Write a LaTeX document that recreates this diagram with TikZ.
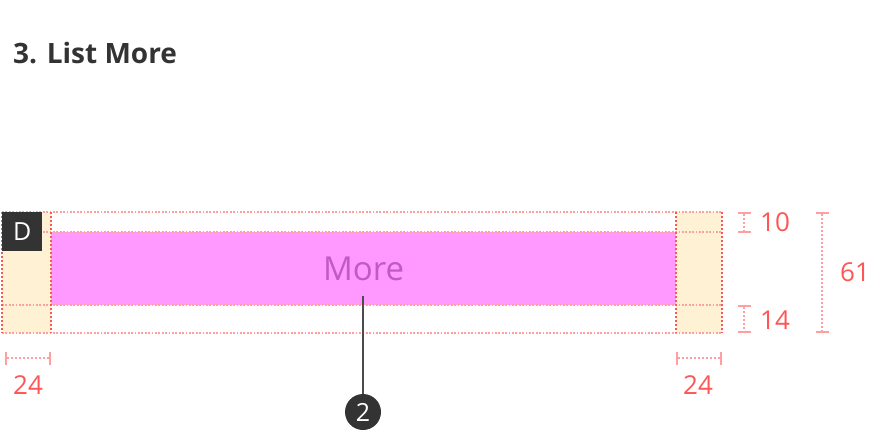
\documentclass[tikz,border=0pt]{standalone}
\usepackage{fontspec}
\setmainfont{Open Sans}
\usetikzlibrary{arrows.meta, positioning, calc}
\definecolor{dgray}  {RGB}{51,51,51}
\definecolor{lyel}   {RGB}{255,242,212}
\definecolor{mpink}  {RGB}{255,153,255}
\definecolor{mtext}  {RGB}{192,90,196}
\definecolor{dred}   {RGB}{255,85,85}
\definecolor{lred}   {RGB}{255,160,160}

\begin{document}
\begin{tikzpicture}[x=1pt, y=-1pt,
    guide/.style={lred, line width=1.8pt, dash pattern=on 1.8pt off 1.6pt},
    edge/.style={dred, line width=1.3pt, dash pattern=on 2pt off 2pt},
    dimbar/.style={lred, line width=2pt, dash pattern=on 2pt off 2pt,
                   {Bar[width=13pt,line width=2pt]}-{Bar[width=13pt,line width=2pt]}},
    dimtxt/.style={text=dred, font=\fontsize{26}{26}\selectfont, inner sep=0pt}]
  \useasboundingbox (0,0) rectangle (880,434);

  % title
  \node[anchor=west, inner sep=0pt, text=dgray,
        font=\fontsize{28}{28}\selectfont\bfseries] (title) at (13,53) {3. List More};

  % padding areas and content
  \fill[lyel] (2,212) rectangle (51,333);
  \fill[lyel] (676,212) rectangle (722,333);
  \node[fill=mpink, minimum width=625pt, minimum height=73pt, inner sep=0pt,
        anchor=north west, text=mtext, font=\fontsize{33}{33}\selectfont]
        (more) at (51,232) {More};

  % guides
  \draw[guide] (2,212) -- (722,212);
  \draw[guide] (2,232) -- (722,232);
  \draw[guide] (2,305) -- (722,305);
  \draw[guide] (2,333) -- (722,333);
  \draw[edge] (2,212) -- (2,333);
  \draw[edge] (51,212) -- (51,333);
  \draw[edge] (676,212) -- (676,333);
  \draw[edge] (722,212) -- (722,333);

  % D badge
  \node[fill=dgray, text=white, minimum width=40pt, minimum height=39pt,
        inner sep=0pt, anchor=north west, font=\fontsize{25}{25}\selectfont]
        (dbadge) at (2,212) {D};

  % dimensions
  \draw[dimbar] (744,212) -- (744,233);
  \node[dimtxt] (dtop) at (775,222) {10};
  \draw[dimbar] (744,305) -- (744,333);
  \node[dimtxt] (dbot) at (775,320) {14};
  \draw[dimbar] (822,212) -- (822,333);
  \node[dimtxt] (dall) at (855,272) {61};
  \draw[dimbar] (5,358) -- (51,358);
  \node[dimtxt] (dleft) at (28,385) {24};
  \draw[dimbar] (676,358) -- (722,358);
  \node[dimtxt] (dright) at (698,385) {24};

  % callout
  \node[circle, fill=dgray, text=white, minimum size=36pt, inner sep=0pt,
        font=\fontsize{25}{25}\selectfont] (two) at (363,412) {2};
  \coordinate (tip) at (363,296);
  \draw[black!70, line width=1.3pt] (tip) -- (two);
\end{tikzpicture}
\end{document}
